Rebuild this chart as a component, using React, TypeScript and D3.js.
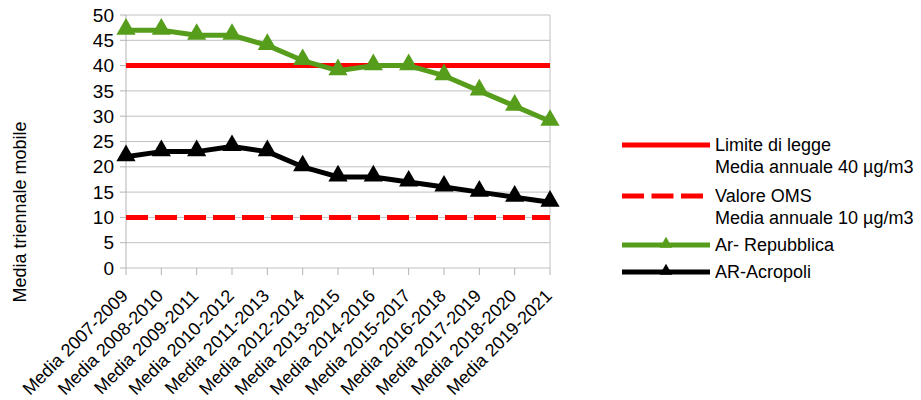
import React from "react";
import * as d3 from "d3";

const categories = ["Media 2007-2009","Media 2008-2010","Media 2009-2011","Media 2010-2012","Media 2011-2013","Media 2012-2014","Media 2013-2015","Media 2014-2016","Media 2015-2017","Media 2016-2018","Media 2017-2019","Media 2018-2020","Media 2019-2021"];
const repubblica = [47, 47, 46, 46, 44, 41, 39, 40, 40, 38, 35, 32, 29];
const acropoli = [22, 23, 23, 24, 23, 20, 18, 18, 17, 16, 15, 14, 13];
const limite = 40;
const oms = 10;
const yTicks = [0, 5, 10, 15, 20, 25, 30, 35, 40, 45, 50];

const W = 921, H = 400;
const left = 126, right = 550, top = 15, bottom = 268;
const font = "Liberation Sans, Arial, sans-serif";

export default function App() {
  const x = d3.scalePoint<string>().domain(categories).range([left, right]);
  const y = d3.scaleLinear().domain([0, 50]).range([bottom, top]);
  const line = d3.line<number>().x((_, i) => x(categories[i])!).y(d => y(d));
  const tri = d3.symbol().type(d3.symbolTriangle).size(160)()!;
  const triSmall = d3.symbol().type(d3.symbolTriangle).size(70)()!;

  const legend = [
    { lines: ["Limite di legge", "Media annuale 40 µg/m3"], color: "#ff0000", dash: "", marker: false, ly: 145 },
    { lines: ["Valore OMS", "Media annuale 10 µg/m3"], color: "#ff0000", dash: "22 7.5", marker: false, ly: 196 },
    { lines: ["Ar- Repubblica"], color: "#579d1c", dash: "", marker: true, ly: 245 },
    { lines: ["AR-Acropoli"], color: "#000000", dash: "", marker: true, ly: 272 },
  ];

  return (
    <svg width={W} height={H} style={{ position: "absolute", left: 0, top: 0 }} fontFamily={font}>
      <rect width={W} height={H} fill="#fff" />
      {yTicks.map(t => (
        <g key={t}>
          <line x1={left} x2={right} y1={y(t)} y2={y(t)} stroke="#c0c0c0" strokeWidth={1} />
          <line x1={left - 6} x2={left} y1={y(t)} y2={y(t)} stroke="#b3b3b3" />
          <text x={left - 12} y={y(t)} dy="0.35em" textAnchor="end" fontSize={19} fill="#000">{t}</text>
        </g>
      ))}
      <line x1={left} x2={left} y1={top} y2={bottom} stroke="#b3b3b3" />
      <line x1={right} x2={right} y1={top} y2={bottom} stroke="#c0c0c0" />
      {categories.map(c => (
        <g key={c}>
          <line x1={x(c)} x2={x(c)} y1={bottom} y2={bottom + 7} stroke="#b3b3b3" />
          <text transform={`translate(${x(c)! + 3},${bottom + 29}) rotate(-45)`} textAnchor="end" fontSize={18} fill="#000">{c}</text>
        </g>
      ))}
      <text transform={`translate(26,212) rotate(-90)`} textAnchor="middle" fontSize={18} fill="#000">Media triennale mobile</text>

      <line x1={left} x2={right} y1={y(limite)} y2={y(limite)} stroke="#ff0000" strokeWidth={5} />
      <line x1={left} x2={right} y1={y(oms)} y2={y(oms)} stroke="#ff0000" strokeWidth={5} strokeDasharray="22 7" />

      <path d={line(repubblica)!} fill="none" stroke="#579d1c" strokeWidth={5} strokeLinejoin="round" />
      {repubblica.map((v, i) => (
        <path key={i} d={tri} transform={`translate(${x(categories[i])},${y(v) - 1})`} fill="#579d1c" />
      ))}
      <path d={line(acropoli)!} fill="none" stroke="#000" strokeWidth={5} strokeLinejoin="round" />
      {acropoli.map((v, i) => (
        <path key={i} d={tri} transform={`translate(${x(categories[i])},${y(v) - 1})`} fill="#000" />
      ))}

      {legend.map((l, i) => (
        <g key={i}>
          <line x1={622} x2={710} y1={l.ly} y2={l.ly} stroke={l.color} strokeWidth={5} strokeDasharray={l.dash} />
          {l.marker && <path d={triSmall} transform={`translate(666,${l.ly - 1})`} fill={l.color} />}
          {l.lines.map((t, j) => (
            <text key={j} x={715} y={l.ly + j * 22} dy="0.35em" fontSize={18} fill="#000">{t}</text>
          ))}
        </g>
      ))}
    </svg>
  );
}
